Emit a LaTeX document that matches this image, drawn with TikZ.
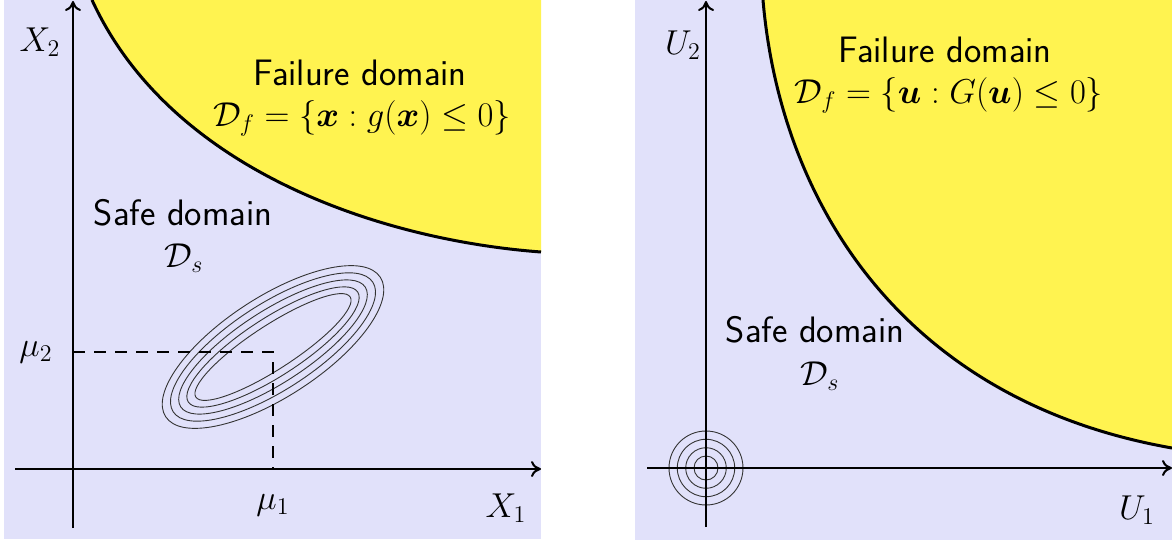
\documentclass[tikz,border=0pt]{standalone}
\usepackage{amsmath,amssymb,bm}
\usetikzlibrary{arrows.meta}
\definecolor{safebg}{RGB}{225,225,250}
\definecolor{failfill}{RGB}{255,243,80}
\tikzset{
  lbl/.style={font=\fontsize{17.6}{21}\selectfont, inner sep=0pt},
  sflbl/.style={font=\fontsize{18.4}{22}\selectfont\sffamily, inner sep=0pt},
  axis/.style={line width=1pt, -{To[length=5pt,width=8pt]}},
  limit/.style={line width=1.5pt},
  contour/.style={line width=0.45pt, black!80},
  guide/.style={line width=0.8pt, dash pattern=on 6pt off 4.5pt},
}
\begin{document}
\begin{tikzpicture}[x=0.5pt,y=-0.5pt]
\useasboundingbox (0,0) rectangle (1172,540);
% ---------------- left panel ----------------
\fill[safebg] (4,0) rectangle (541,539);
\coordinate (la) at (92,0);
\coordinate (lb) at (541,252);
\fill[failfill] (la) .. controls (170,170) and (380,240) .. (lb) -- (541,0) -- cycle;
\draw[limit] (la) .. controls (170,170) and (380,240) .. (lb);
% contours
\foreach \a/\b in {92/22, 101/29, 110/36, 119/43, 128/50}
  \draw[contour] (273,347) ellipse[x radius=\a, y radius=\b, rotate=33];
% axes
\coordinate (lyb) at (73,528);
\coordinate (lyt) at (73,1);
\coordinate (lxl) at (15,469);
\coordinate (lxr) at (541,469);
\coordinate (m2) at (73,352);
\coordinate (mu) at (273,352);
\coordinate (m1) at (273,469);
\draw[guide] (m2) -- (mu) -- (m1);
\draw[axis] (lyb) -- (lyt);
\draw[axis] (lxl) -- (lxr);
\node[lbl] (X2) at (40,42) {$X_2$};
\node[lbl] (X1) at (506,508) {$X_1$};
\node[lbl] (mu2) at (36,352) {$\mu_2$};
\node[lbl] (mu1) at (273,505) {$\mu_1$};
\node[sflbl] (fl) at (360,73) {Failure domain};
\node[lbl] (dfl) at (362,118) {$\mathcal{D}_f=\{\bm{x}:g(\bm{x})\leq 0\}$};
\node[sflbl] (sl) at (183,213) {Safe domain};
\node[lbl] (dsl) at (184,258) {$\mathcal{D}_s$};
% ---------------- right panel ----------------
\fill[safebg] (635,0) rectangle (1172,540);
\coordinate (ra) at (763,0);
\coordinate (rb) at (1172,448);
\fill[failfill] (ra) .. controls (780,200) and (900,400) .. (rb) -- (1172,0) -- cycle;
\draw[limit] (ra) .. controls (780,200) and (900,400) .. (rb);
\coordinate (o) at (706,468);
\foreach \r in {12,20.3,28.7,37}
  \draw[contour] (o) circle[radius=\r];
\coordinate (ryb) at (706,527);
\coordinate (ryt) at (706,1);
\coordinate (rxl) at (647,468);
\coordinate (rxr) at (1172,468);
\draw[axis] (ryb) -- (ryt);
\draw[axis] (rxl) -- (rxr);
\node[lbl] (U2) at (683,45) {$U_2$};
\node[lbl] (U1) at (1137,510) {$U_1$};
\node[sflbl] (fr) at (945,50) {Failure domain};
\node[lbl] (dfr) at (949,95) {$\mathcal{D}_f=\{\bm{u}:G(\bm{u})\leq 0\}$};
\node[sflbl] (sr) at (815,330) {Safe domain};
\node[lbl] (dsr) at (820,376) {$\mathcal{D}_s$};
\end{tikzpicture}
\end{document}
